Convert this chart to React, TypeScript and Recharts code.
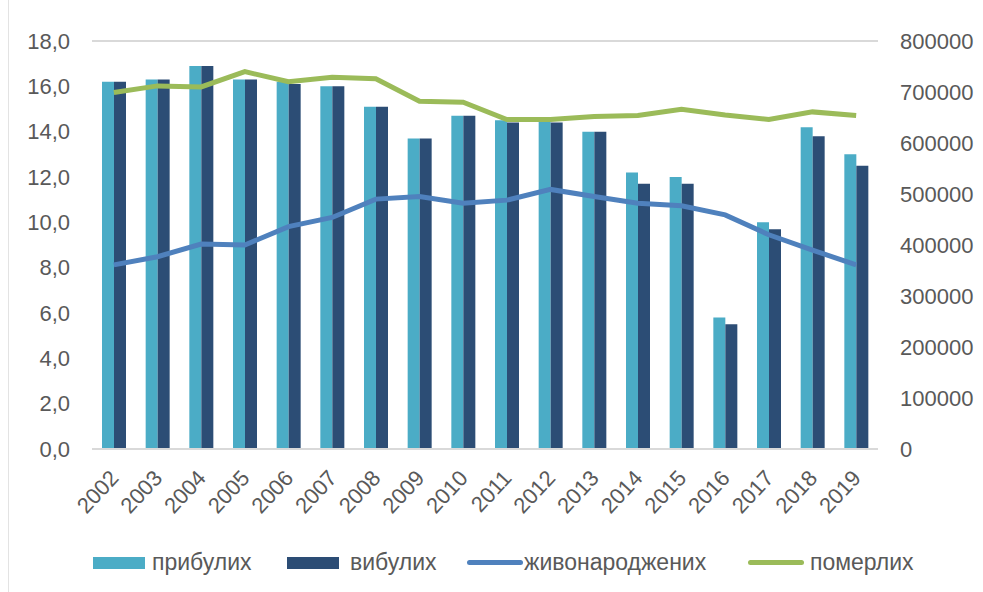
import { Bar, CartesianGrid, ComposedChart, Line, XAxis, YAxis } from "recharts";

const years = [
  "2002", "2003", "2004", "2005", "2006", "2007", "2008", "2009", "2010",
  "2011", "2012", "2013", "2014", "2015", "2016", "2017", "2018", "2019",
];
// per 1000 population, left axis
const arrived = [16.2, 16.3, 16.9, 16.3, 16.2, 16.0, 15.1, 13.7, 14.7, 14.5, 14.5, 14.0, 12.2, 12.0, 5.8, 10.0, 14.2, 13.0];
const departed = [16.2, 16.3, 16.9, 16.3, 16.1, 16.0, 15.1, 13.7, 14.7, 14.4, 14.4, 14.0, 11.7, 11.7, 5.5, 9.7, 13.8, 12.5];
// absolute counts, right axis
const born = [361000, 377000, 402000, 400000, 436000, 454000, 490000, 495000, 482000, 488000, 509000, 495000, 482000, 477000, 459000, 420000, 390000, 361000];
const died = [699000, 712000, 710000, 740000, 720000, 729000, 726000, 682000, 680000, 646000, 646000, 652000, 654000, 666000, 655000, 646000, 661000, 654000];

const leftTicks = [0, 2, 4, 6, 8, 10, 12, 14, 16, 18];
const rightTicks = [0, 100000, 200000, 300000, 400000, 500000, 600000, 700000, 800000];

const data = years.map((year, i) => ({
  year,
  arrived: arrived[i],
  departed: departed[i],
  born: born[i],
  died: died[i],
}));

const C_ARRIVED = "#4BACC6";
const C_DEPARTED = "#2C4D75";
const C_BORN = "#4F81BD";
const C_DIED = "#9BBB59";
const TEXT = "#595959";
const FONT = "'Liberation Sans', Arial, sans-serif";

function YearTick({ x, y, payload }: any) {
  return (
    <text
      x={x + 6}
      y={y + 22}
      transform={`rotate(-47, ${x + 6}, ${y + 22})`}
      textAnchor="end"
      fontSize={22}
      fill={TEXT}
      fontFamily={FONT}
    >
      {payload.value}
    </text>
  );
}

const legendItems = [
  { label: "прибулих", color: C_ARRIVED, kind: "box", left: 93, textLeft: 152 },
  { label: "вибулих", color: C_DEPARTED, kind: "box", left: 287, textLeft: 350 },
  { label: "живонароджених", color: C_BORN, kind: "line", left: 467, textLeft: 524 },
  { label: "померлих", color: C_DIED, kind: "line", left: 748, textLeft: 810 },
];

export default function App() {
  return (
    <div style={{ position: "absolute", left: 0, top: 0, width: 983, height: 592, background: "#fff", fontFamily: FONT }}>
      <div style={{ position: "absolute", left: 8, top: 0, width: 1, height: 592, background: "#E3E3E3" }} />
      <ComposedChart
        width={983}
        height={520}
        data={data}
        margin={{ top: 41, right: 0, bottom: 0, left: 0 }}
        barGap={0}
        barCategoryGap="22%"
      >
        <CartesianGrid vertical={false} stroke="#D9D9D9" strokeWidth={2} />
        <XAxis
          dataKey="year"
          height={71}
          tick={<YearTick />}
          tickLine={false}
          axisLine={{ stroke: "#D9D9D9", strokeWidth: 2 }}
          interval={0}
        />
        <YAxis
          yAxisId="left"
          width={92}
          domain={[0, 18]}
          ticks={leftTicks}
          tickFormatter={(v: number) => v.toFixed(1).replace(".", ",")}
          tick={{ fill: TEXT, fontSize: 22, fontFamily: FONT }}
          tickLine={false}
          tickSize={0}
          tickMargin={22}
          axisLine={false}
        />
        <YAxis
          yAxisId="right"
          orientation="right"
          width={105}
          domain={[0, 800000]}
          ticks={rightTicks}
          tick={{ fill: TEXT, fontSize: 22, fontFamily: FONT, textAnchor: "start" }}
          tickLine={false}
          tickSize={0}
          tickMargin={22}
          axisLine={false}
        />
        <Bar yAxisId="left" dataKey="arrived" fill={C_ARRIVED} barSize={12} isAnimationActive={false} />
        <Bar yAxisId="left" dataKey="departed" fill={C_DEPARTED} barSize={12} isAnimationActive={false} />
        <Line yAxisId="right" dataKey="born" stroke={C_BORN} strokeWidth={5} dot={false} type="linear" isAnimationActive={false} />
        <Line yAxisId="right" dataKey="died" stroke={C_DIED} strokeWidth={5} dot={false} type="linear" isAnimationActive={false} />
      </ComposedChart>
      {legendItems.map((item) => (
        <div key={item.label}>
          <div
            style={{
              position: "absolute",
              left: item.left,
              top: item.kind === "box" ? 557 : 560,
              width: item.kind === "box" ? 52 : 56,
              height: item.kind === "box" ? 12 : 5,
              borderRadius: item.kind === "box" ? 0 : 3,
              background: item.color,
            }}
          />
          <div
            style={{
              position: "absolute",
              left: item.textLeft,
              top: 548,
              fontSize: 23,
              lineHeight: "28px",
              color: TEXT,
            }}
          >
            {item.label}
          </div>
        </div>
      ))}
    </div>
  );
}
